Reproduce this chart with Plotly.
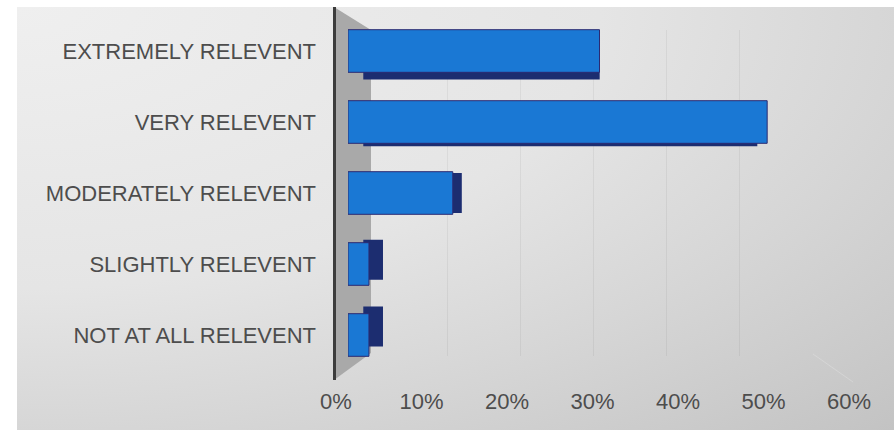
import base64
import plotly.graph_objects as go

# ---- data ----
categories = ["EXTREMELY RELEVENT", "VERY RELEVENT", "MODERATELY RELEVENT",
              "SLIGHTLY RELEVENT", "NOT AT ALL RELEVENT"]
values = [0.30, 0.50, 0.125, 0.025, 0.025]
tick_values = [0, 0.1, 0.2, 0.3, 0.4, 0.5, 0.6]
tick_labels = ["0%", "10%", "20%", "30%", "40%", "50%", "60%"]

W, H = 894, 430
def px(x):
    return x / W
def py(y):
    return 1 - y / H

# ---- 3D depth styling (perspective toward a vanishing point) ----
depth = 0.06          # depth factor of back face
vp_x = 0.304          # vanishing point in x2 units
vp_cat = 2            # vanishing point in category index units
bar_w = 0.6
shadow_base = [depth * vp_x for _ in values]
shadow_len = [v * (1 - depth) for v in values]
shadow_off = [depth * (vp_cat - i) - bar_w / 2 * (1 - depth) for i in range(len(values))]

fig = go.Figure()

# empty traces so the grid subplot and the label axis are created
fig.add_trace(go.Scatter(x=[], y=[], xaxis="x", yaxis="y", showlegend=False, hoverinfo="skip"))
fig.add_trace(go.Scatter(x=[], y=[], xaxis="x3", yaxis="y", showlegend=False, hoverinfo="skip"))

fig.add_trace(go.Bar(
    y=categories, x=shadow_len, base=shadow_base, offset=shadow_off,
    width=bar_w * (1 - depth), orientation="h",
    marker=dict(color="#1c2d70", line=dict(width=0)),
    xaxis="x2", yaxis="y2", hoverinfo="skip", showlegend=False,
))
fig.add_trace(go.Bar(
    y=categories, x=values, width=bar_w, orientation="h",
    marker=dict(color="#1a78d4", line=dict(color="#2b2a72", width=1)),
    xaxis="x2", yaxis="y2", showlegend=False,
))

# background gradient as inline svg image
svg = ('<svg xmlns="http://www.w3.org/2000/svg" width="100" height="100" '
       'viewBox="0 0 100 100" preserveAspectRatio="none">'
       '<defs><radialGradient id="g" cx="0" cy="0" r="1.414" fx="0" fy="0">'
       '<stop offset="0" stop-color="#efefef"/>'
       '<stop offset="0.47" stop-color="#e5e5e5"/>'
       '<stop offset="0.71" stop-color="#d6d6d6"/>'
       '<stop offset="1" stop-color="#c3c3c3"/>'
       '</radialGradient></defs>'
       '<rect width="100" height="100" fill="url(#g)"/></svg>')
src = "data:image/svg+xml;base64," + base64.b64encode(svg.encode()).decode()

font = dict(family="Liberation Sans, Arial, sans-serif", size=22, color="#4d4d4d")

fig.update_layout(
    width=W, height=H,
    margin=dict(l=0, r=0, t=0, b=0, pad=0, autoexpand=False),
    paper_bgcolor="white",
    plot_bgcolor="rgba(0,0,0,0)",
    showlegend=False,
    barmode="overlay",
    font=font,
    images=[dict(source=src, xref="paper", yref="paper",
                 x=px(17), y=py(7), sizex=px(W - 17), sizey=(H - 7) / H,
                 xanchor="left", yanchor="top", sizing="stretch", layer="below")],
    # back-wall gridlines
    xaxis=dict(domain=[px(374), px(813)], range=[0, 0.6], dtick=0.1,
               showgrid=True, gridcolor="rgba(0,0,0,0.05)", gridwidth=1,
               showticklabels=False, zeroline=False, showline=False,
               anchor="y", fixedrange=True, automargin=False),
    yaxis=dict(domain=[py(356), py(30)], range=[0, 1], showgrid=False,
               showticklabels=False, zeroline=False, showline=False,
               anchor="x", fixedrange=True, automargin=False),
    # bars
    xaxis2=dict(domain=[px(348), px(851)], range=[0, 0.6], showgrid=False,
                showticklabels=False, zeroline=False, showline=False,
                anchor="y2", fixedrange=True, automargin=False),
    yaxis2=dict(domain=[py(370.5), py(15.5)], type="category",
                categoryorder="array", categoryarray=categories,
                range=[4.5, -0.5], showgrid=False, zeroline=False,
                showline=False, ticks="", ticklabelstandoff=31,
                tickfont=font, anchor="x2", fixedrange=True, automargin=False),
    # value labels axis
    xaxis3=dict(domain=[px(336), px(849)], range=[0, 0.6],
                tickvals=tick_values, ticktext=tick_labels, tickfont=font,
                showgrid=False, zeroline=False, showline=False, ticks="",
                anchor="free", position=py(386), fixedrange=True, automargin=False),
)

shapes = [
    # left wall
    dict(type="path", xref="paper", yref="paper",
         path=f"M {px(334)},{py(7)} L {px(371)},{py(30)} L {px(371)},{py(353)} L {px(334)},{py(380)} Z",
         fillcolor="#a9a9a9", line=dict(width=0), layer="below"),
    # floor right edge
    dict(type="line", xref="paper", yref="paper",
         x0=px(813), y0=py(354), x1=px(853), y1=py(382),
         line=dict(color="rgba(240,240,240,0.3)", width=1), layer="below"),
    # vertical axis line
    dict(type="line", xref="paper", yref="paper",
         x0=px(334.5), y0=py(7), x1=px(334.5), y1=py(380),
         line=dict(color="#3c3c3c", width=3), layer="above"),
]
fig.update_layout(shapes=shapes)

fig.write_html("out.html", post_script="document.body.style.margin='0';",
               config={"displayModeBar": False})
